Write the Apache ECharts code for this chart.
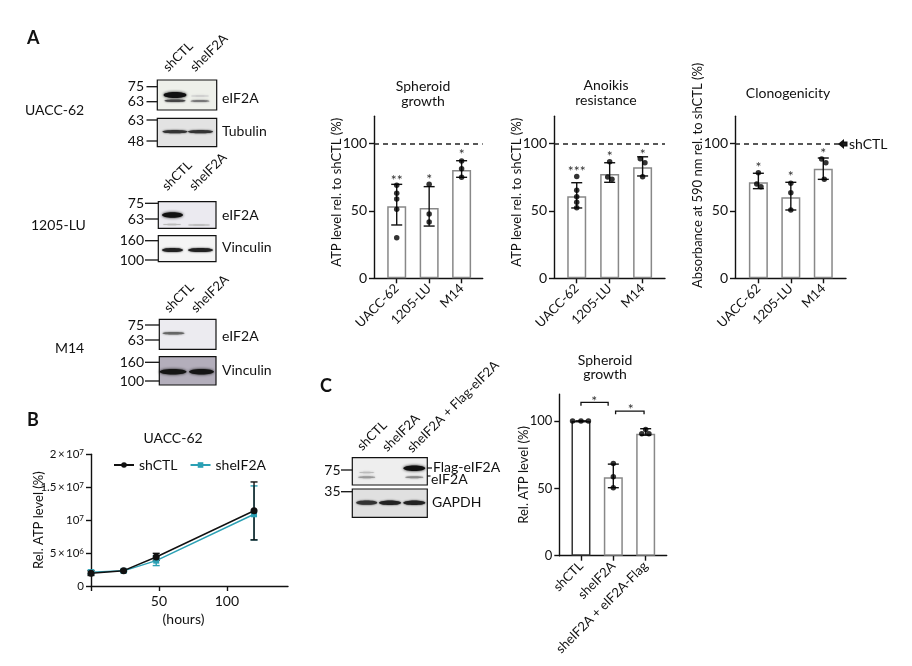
<!DOCTYPE html>
<html><head><meta charset="utf-8">
<script src="https://cdn.jsdelivr.net/npm/echarts@6/dist/echarts.min.js"></script>
<style>html,body{margin:0;padding:0;background:#fff}#c{width:912px;height:666px}</style>
</head><body><div id="c"></div>
<script>
const F = 'Lato, "Noto Sans", sans-serif';
// ---------- Panel A data ----------
const cellLines = ['UACC-62', '1205-LU', 'M14'];
const sphMean = [53.3, 52.0, 80.2];
const sphErr = [[39.5, 69.6], [38.7, 67.9], [74.8, 87.1]];
const sphPts = [[[0, 69.0], [0, 63.0], [0, 58.7], [0, 51.1], [0, 30.0]], [[0, 69.6], [0, 47.6], [0, 41.7]], [[0, 86.9], [0, 81.2], [0, 74.8]]];
const sphSig = ['**', '*', '*'];
const sphSigY = [75.8, 76.5, 95.0];
const anoMean = [60.7, 77.3, 82.2];
const anoErr = [[52.1, 70.8], [71.1, 85.6], [75.8, 90.0]];
const anoPts = [[[0, 75.5], [0, 65.2], [0, 60.4], [0, 56.3], [0, 52.3]], [[0, 86.4], [-0.06, 75.0], [0.07, 73.3]], [[-0.07, 88.6], [0.07, 85.6], [0, 75.3]]];
const anoSig = ['***', '*', '*'];
const anoSigY = [82.0, 93.0, 94.5];
const cloMean = [71.1, 60.0, 81.2];
const cloErr = [[66.4, 77.8], [50.6, 71.1], [73.3, 89.1]];
const cloPts = [[[0, 78.2], [-0.05, 69.9], [0.08, 67.9]], [[0, 70.4], [0, 63.4], [0, 50.6]], [[-0.05, 88.4], [0.08, 85.6], [0.03, 73.3]]];
const cloSig = ['*', '*', '*'];
const cloSigY = [85.2, 78.5, 95.3];
const refLevel = 100;
const pctTicks = [0, 50, 100];
// ---------- Panel B data ----------
const hours = [0, 24, 48, 120];
const atpCtl = [1.93e6, 2.33e6, 4.4e6, 1.143e7];
const atpCtlLo = [1.6e6, 2.2e6, 3.9e6, 7.0e6];
const atpCtlHi = [2.3e6, 2.5e6, 4.96e6, 1.58e7];
const atpKd = [2.1e6, 2.3e6, 3.85e6, 1.089e7];
const atpKdLo = [1.8e6, 2.15e6, 3.1e6, 7.0e6];
const atpKdHi = [2.4e6, 2.45e6, 4.6e6, 1.52e7];
const bTicks = [0, 5e6, 1e7, 1.5e7, 2e7];
const bTickLabels = ['0', '5\u2009×\u200910{s|6}', '10{s|7}', '1.5\u2009×\u200910{s|7}', '2\u2009×\u200910{s|7}'];
const hourTicks = [0, 50, 100];
const hourLabels = [50, 100];
// ---------- Panel C data ----------
const cConds = ['shCTL', 'sheIF2A', 'sheIF2A + eIF2A-Flag'];
const cMean = [100, 58.2, 90.6];
const cErr = [[100, 100], [50.5, 68.0], [89.5, 94.3]];
const cPts = [[[-0.26, 100], [0, 100], [0.23, 100]], [[0, 68.5], [0, 58.7], [0, 50.5]], [[0, 93.8], [-0.12, 90.5], [0.1, 90.5]]];
const cBrackets = [[0, 0.84, 113.9, 111.4], [1.07, 1.95, 107.4, 105.0]];
const cSig = ['*', '*'];
const cSigPos = [[0.41, 118.0], [1.54, 111.4]];

// ---------- helpers ----------
const BLACK = '#111';
function errSeries(gi, data, color, capHalf) {
  return {
    type: 'custom', xAxisIndex: gi, yAxisIndex: gi, z: 4,
    data: data, encode: { x: 0, y: [1, 2] },
    renderItem: function (params, api) {
      const x = api.value(0);
      const p1 = api.coord([x, api.value(1)]), p2 = api.coord([x, api.value(2)]);
      const st = { stroke: color, lineWidth: 1.4 };
      return { type: 'group', children: [
        { type: 'line', shape: { x1: p1[0], y1: p1[1], x2: p2[0], y2: p2[1] }, style: st },
        { type: 'line', shape: { x1: p1[0] - capHalf, y1: p1[1], x2: p1[0] + capHalf, y2: p1[1] }, style: st },
        { type: 'line', shape: { x1: p2[0] - capHalf, y1: p2[1], x2: p2[0] + capHalf, y2: p2[1] }, style: st }
      ] };
    }
  };
}
function textSeries(gi, pos, texts, fs) {
  return {
    type: 'custom', xAxisIndex: gi, yAxisIndex: gi, z: 5,
    data: pos, encode: { x: 0, y: 1 },
    renderItem: function (params, api) {
      const p = api.coord([api.value(0), api.value(1)]);
      return { type: 'text', x: p[0], y: p[1] + fs * 0.3, style: { text: texts[params.dataIndex], fontFamily: F, fontSize: fs, fill: '#333', align: 'center', verticalAlign: 'middle' } };
    }
  };
}
function barPanel(gi, mean, err, pts, sig, sigY, borders, withRef) {
  const barData = mean.map((v, i) => [i, v]);
  const errData = err.map((e, i) => [i, e[0], e[1]]);
  const ptData = [];
  pts.forEach((arr, i) => arr.forEach(p => ptData.push([i + p[0], p[1]])));
  const s = [];
  const bar = {
    type: 'bar', xAxisIndex: gi, yAxisIndex: gi, barWidth: 19, z: 2,
    data: barData.map((d, i) => ({ value: d, itemStyle: { color: '#fff', borderColor: borders[i], borderWidth: 1.5 } })),
    silent: true
  };
  if (withRef) {
    bar.markLine = { silent: true, symbol: 'none', label: { show: false },
      lineStyle: { color: '#222', type: [5, 4], width: 1.5 }, data: [{ yAxis: refLevel }] };
  }
  s.push(bar);
  s.push(errSeries(gi, errData, BLACK, 5.5));
  s.push({ type: 'scatter', xAxisIndex: gi, yAxisIndex: gi, z: 6, symbol: 'circle', symbolSize: 5.5, itemStyle: { color: '#000' }, data: ptData, silent: true });
  if (sig) s.push(textSeries(gi, sigY.map((y, i) => [i, y]), sig, 14));
  return s;
}
function pctAxes(gi, names, left, width, top, height, xmin, xmax, name, nameGap, namePad, fs) {
  const xa = {
    gridIndex: gi, type: 'value', min: xmin, max: xmax,
    axisLine: { show: true, onZero: false, lineStyle: { color: BLACK, width: 1.4 } },
    axisTick: { show: true, length: 5, customValues: [0, 1, 2], lineStyle: { color: BLACK, width: 1.4 } },
    axisLabel: { customValues: [0, 1, 2], rotate: 45, margin: 8, fontFamily: F, fontSize: 13, color: BLACK, formatter: v => names[Math.round(v)] },
    splitLine: { show: false }
  };
  const ya = {
    gridIndex: gi, type: 'value', min: 0, max: 120,
    axisLine: { show: true, onZero: false, lineStyle: { color: BLACK, width: 1.4 } },
    axisTick: { show: true, length: 5, customValues: pctTicks, lineStyle: { color: BLACK, width: 1.4 } },
    axisLabel: { customValues: pctTicks, margin: 7, fontFamily: F, fontSize: fs, color: BLACK },
    splitLine: { show: false },
    name: name, nameLocation: 'middle', nameGap: nameGap, nameMoveOverlap: false,
    nameTextStyle: { fontFamily: F, fontSize: 13, color: BLACK, padding: namePad }
  };
  return [xa, ya, { left: left, top: top, width: width, height: height }];
}

// ---------- graphics (western blots and annotations) ----------
const G = [];
function txt(x, y, t, o) {
  o = o || {};
  G.push({ type: 'text', x: x, y: y, rotation: o.rot || 0, silent: true,
    style: { text: t, fontFamily: F, fontSize: o.fs || 14, fontWeight: o.fw || 'normal', fill: o.fill || BLACK, align: o.al || 'left', verticalAlign: o.va || 'middle' } });
}
function ln(x1, y1, x2, y2, w) {
  G.push({ type: 'line', silent: true, shape: { x1: x1, y1: y1, x2: x2, y2: y2 }, style: { stroke: BLACK, lineWidth: w || 1.3 } });
}
function box(x, y, w, h, fill) {
  G.push({ type: 'rect', silent: true, shape: { x: x, y: y, width: w, height: h }, style: { fill: fill, stroke: BLACK, lineWidth: 1.2 } });
}
function band(cx, cy, w, h, col, blur) {
  G.push({ type: 'ellipse', silent: true, shape: { cx: cx, cy: cy, rx: w / 2, ry: h / 2 },
    style: { fill: col, shadowBlur: blur === undefined ? 3 : blur, shadowColor: col } });
}
function marker(xr, y, t, x1, x2) { txt(xr, y, t, { al: 'right', fs: 14 }); ln(x1, y, x2, y, 1.3); }
function lane(x, y, t) { txt(x, y, t, { rot: Math.PI / 4, al: 'left', va: 'bottom', fs: 13 }); }

// panel letters
txt(27, 38, 'A', { fw: 'bold', fs: 18 });
txt(27, 420, 'B', { fw: 'bold', fs: 18 });
txt(320, 386, 'C', { fw: 'bold', fs: 18 });
// cell line labels
txt(25, 110, 'UACC-62');
txt(31, 225, '1205-LU');
txt(55, 348, 'M14');
// UACC-62 blots
lane(170, 74, 'shCTL'); lane(197, 74, 'sheIF2A');
box(157.3, 80, 59.4, 30, '#eef0ea');
band(175, 95, 23, 6, '#111', 3); band(175, 100.8, 21, 2.5, '#444', 2);
band(200, 101, 19, 2.2, '#777', 2); band(200, 96, 18, 1.5, '#ccc', 2);
box(157.3, 118.3, 59.4, 28.4, '#e3e3e3');
band(175, 131.7, 25, 3.2, '#333', 2); band(200.5, 131.7, 25, 3.2, '#333', 2);
marker(144, 86.7, '75', 146.5, 157.3); marker(144, 101.7, '63', 146.5, 157.3);
marker(144, 120, '63', 146.5, 157.3); marker(144, 141, '48', 146.5, 157.3);
txt(222, 98, 'eIF2A'); txt(222, 131, 'Tubulin');
// 1205-LU blots
lane(169, 193, 'shCTL'); lane(196, 193, 'sheIF2A');
box(158.3, 201.7, 57.7, 26.6, '#ebeaf0');
band(172.5, 215, 21, 5.5, '#111', 3); band(172, 224.5, 18, 1.5, '#bbb', 1); band(199, 225, 22, 1.5, '#bbb', 1);
box(158.3, 235.7, 57.7, 26, '#f4f4f4');
band(172.5, 250, 21, 4.2, '#222', 2); band(200.5, 250, 25, 4.2, '#222', 2);
marker(144, 203.3, '75', 145, 158.3); marker(144, 219, '63', 145, 158.3);
marker(144, 240.7, '160', 145, 158.3); marker(144, 260, '100', 145, 158.3);
txt(222, 215, 'eIF2A'); txt(222, 247, 'Vinculin');
// M14 blots
lane(171, 315, 'shCTL'); lane(198, 315, 'sheIF2A');
box(159.3, 319.3, 56.7, 30, '#ecebf0');
band(173.5, 333.3, 22, 2.5, '#666', 2);
box(159.3, 356.7, 56.7, 28.3, '#b3aebb');
band(173, 371.7, 27, 5.5, '#151515', 3); band(201.5, 371.7, 25, 5.5, '#151515', 3);
marker(144, 325, '75', 145, 159.3); marker(144, 340, '63', 145, 159.3);
marker(144, 362.3, '160', 145, 159.3); marker(144, 381, '100', 145, 159.3);
txt(222, 336, 'eIF2A'); txt(222, 370, 'Vinculin');
// panel C blots
lane(364, 453, 'shCTL'); lane(389, 454, 'sheIF2A'); lane(414, 455, 'sheIF2A + Flag-eIF2A');
box(352.3, 457.7, 75, 27.3, '#eeeeee');
band(414.3, 468.3, 22, 5.5, '#111', 3); band(366.7, 477.3, 17, 2, '#999', 2);
band(414.3, 477.3, 18, 2, '#888', 2); band(366.7, 472.5, 15, 1.5, '#bbb', 2);
box(352.3, 489, 75, 28.3, '#e0e0e0');
band(366.7, 502.7, 21, 4.2, '#333', 2); band(390, 502.7, 22, 4.6, '#222', 2); band(414.3, 502.7, 22, 4.6, '#222', 2);
marker(340.5, 470, '75', 341, 352.3); marker(340.5, 491.7, '35', 341, 352.3);
ln(427.3, 468, 432, 468, 1.2); ln(427.3, 476, 430.5, 476, 1.2);
txt(433, 467, 'Flag-eIF2A'); txt(431, 479, 'eIF2A'); txt(432, 502, 'GAPDH');
// chart titles
txt(423, 86, 'Spheroid', { al: 'center' }); txt(423, 101, 'growth', { al: 'center' });
txt(606, 85, 'Anoikis', { al: 'center' }); txt(606, 100, 'resistance', { al: 'center' });
txt(788, 93, 'Clonogenicity', { al: 'center' });
txt(173, 438, 'UACC-62', { al: 'center' });
txt(605, 360, 'Spheroid', { al: 'center' }); txt(605, 374, 'growth', { al: 'center' });
// shCTL arrow in clonogenicity
G.push({ type: 'polygon', silent: true, shape: { points: [[838, 144], [844, 139], [844, 149]] }, style: { fill: BLACK } });
G.push({ type: 'rect', silent: true, shape: { x: 843.5, y: 141.5, width: 4, height: 5 }, style: { fill: BLACK } });
txt(849, 144, 'shCTL');

// ---------- axes ----------
const a1 = pctAxes(0, cellLines, 374, 108.7, 116.3, 162, -0.70, 2.65, 'ATP level rel. to shCTL (%)', 31, [0, 0, 0, 10], 14);
const a2 = pctAxes(1, cellLines, 554, 111, 116.3, 162, -0.69, 2.68, 'ATP level rel. to shCTL (%)', 31, [0, 0, 0, 10], 14);
const a3 = pctAxes(2, cellLines, 735, 111, 116.3, 162, -0.72, 2.70, 'Absorbance at 590 nm rel. to shCTL (%)', 31, [0, 0, 0, 44], 14);
const aC = pctAxes(4, cConds, 559.3, 107.4, 394.1, 161.6, -0.67, 2.65, 'Rel. ATP level (%)', 29, [0, 0, 0, 0], 13);

const xB = {
  gridIndex: 3, type: 'value', min: 0, max: 145,
  axisLine: { show: true, onZero: false, lineStyle: { color: BLACK, width: 1.4 } },
  axisTick: { show: true, length: 5, customValues: hourTicks, lineStyle: { color: BLACK, width: 1.4 } },
  axisLabel: { customValues: hourLabels, margin: 8, fontFamily: F, fontSize: 14, color: BLACK },
  splitLine: { show: false },
  name: '(hours)', nameLocation: 'middle', nameGap: 26, nameMoveOverlap: false,
  nameTextStyle: { fontFamily: F, fontSize: 14, color: BLACK, padding: [0, 12, 0, 0] }
};
const yB = {
  gridIndex: 3, type: 'value', min: 0, max: 2e7,
  axisLine: { show: true, onZero: false, lineStyle: { color: BLACK, width: 1.4 } },
  axisTick: { show: true, length: 5, customValues: bTicks, lineStyle: { color: BLACK, width: 1.4 } },
  axisLabel: { customValues: bTicks, margin: 7, fontFamily: F, fontSize: 11.5, color: BLACK,
    formatter: v => bTickLabels[bTicks.indexOf(v)],
    rich: { s: { fontFamily: F, fontSize: 8, verticalAlign: 'top', color: BLACK } } },
  splitLine: { show: false },
  name: 'Rel. ATP level (%)', nameLocation: 'middle', nameGap: 46, nameMoveOverlap: false,
  nameTextStyle: { fontFamily: F, fontSize: 13, color: BLACK }
};

const CYAN = '#2ba0b4';
const series = [].concat(
  barPanel(0, sphMean, sphErr, sphPts, sphSig, sphSigY, ['#888', '#888', '#888'], true),
  barPanel(1, anoMean, anoErr, anoPts, anoSig, anoSigY, ['#888', '#888', '#888'], true),
  barPanel(2, cloMean, cloErr, cloPts, cloSig, cloSigY, ['#888', '#888', '#888'], true),
  barPanel(4, cMean, cErr, cPts, null, null, ['#333', '#888', '#888'], false),
  [
    errSeries(3, hours.map((h, i) => [h, atpKdLo[i], atpKdHi[i]]), CYAN, 3.5),
    { type: 'line', name: 'sheIF2A', xAxisIndex: 3, yAxisIndex: 3, z: 5, data: hours.map((h, i) => [h, atpKd[i]]),
      color: CYAN, symbol: 'rect', symbolSize: 6, lineStyle: { width: 1.5, color: CYAN }, itemStyle: { color: CYAN } },
    errSeries(3, hours.map((h, i) => [h, atpCtlLo[i], atpCtlHi[i]]), BLACK, 3.5),
    { type: 'line', name: 'shCTL', xAxisIndex: 3, yAxisIndex: 3, z: 6, data: hours.map((h, i) => [h, atpCtl[i]]),
      color: BLACK, symbol: 'circle', symbolSize: 7, lineStyle: { width: 1.5, color: BLACK }, itemStyle: { color: BLACK } },
    {
      type: 'custom', xAxisIndex: 4, yAxisIndex: 4, z: 5, data: cBrackets, encode: { x: [0, 1], y: [2, 3] },
      renderItem: function (params, api) {
        const a = api.coord([api.value(0), api.value(2)]), b = api.coord([api.value(1), api.value(2)]);
        const d = api.coord([api.value(0), api.value(3)]);
        const st = { stroke: BLACK, lineWidth: 1.3, fill: null };
        return { type: 'polyline', shape: { points: [[a[0], d[1]], a, b, [b[0], d[1]]] }, style: st };
      }
    },
    textSeries(4, cSigPos, cSig, 14)
  ]
);

const option = {
  animation: false,
  backgroundColor: '#fff',
  textStyle: { fontFamily: F },
  grid: [a1[2], a2[2], a3[2], { left: 91, top: 454.3, width: 197, height: 131.7 }, aC[2]].map(g => Object.assign({ containLabel: false }, g)),
  xAxis: [a1[0], a2[0], a3[0], xB, aC[0]],
  yAxis: [a1[1], a2[1], a3[1], yB, aC[1]],
  legend: {
    data: ['shCTL', 'sheIF2A'], left: 108, top: 453, itemWidth: 20, itemHeight: 7, itemGap: 12,
    textStyle: { fontFamily: F, fontSize: 14, color: BLACK }, selectedMode: false
  },
  graphic: G,
  series: series
};
const chart = echarts.init(document.getElementById('c'), null, { renderer: 'canvas' });
chart.setOption(option);
</script>
</body></html>
